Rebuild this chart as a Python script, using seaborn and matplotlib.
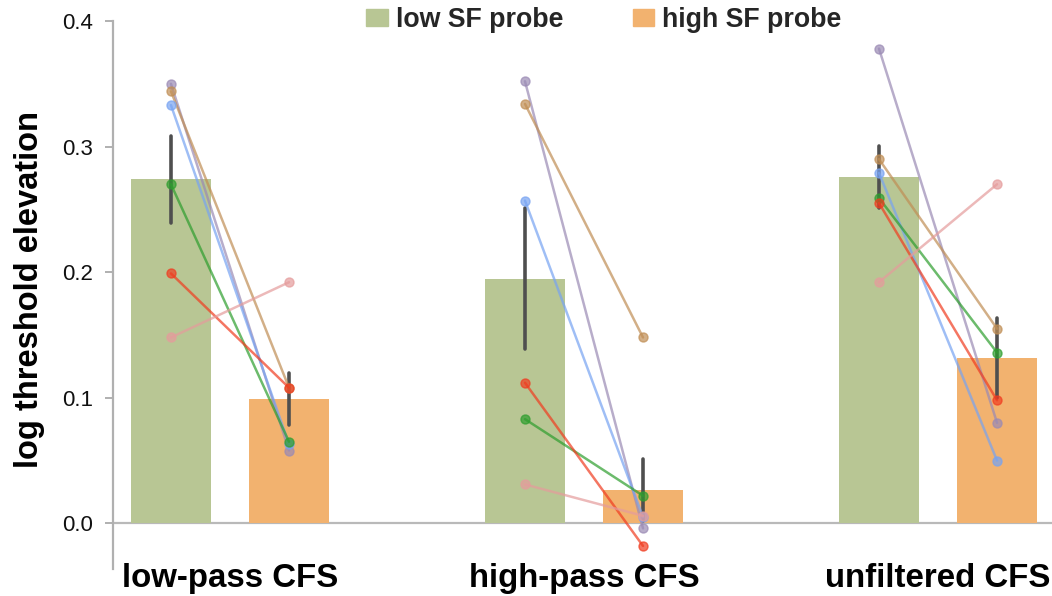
import matplotlib
matplotlib.use("Agg")
import matplotlib.pyplot as plt
import matplotlib.patches as mpatches
import numpy as np
import pandas as pd
import seaborn as sns

# ─────────────────────────────────────────────
# Data
# ─────────────────────────────────────────────
CONDITIONS = ["low-pass CFS", "high-pass CFS", "unfiltered CFS"]
PROBES     = ["low SF probe", "high SF probe"]
SUBJECTS   = ["S1", "S2", "S3", "S4", "S5", "S6"]

# rows = subjects, cols = conditions
LOW_SF = [
    [0.350, 0.352, 0.378],
    [0.344, 0.334, 0.290],
    [0.333, 0.257, 0.279],
    [0.270, 0.083, 0.259],
    [0.199, 0.112, 0.255],
    [0.148, 0.031, 0.192],
]
HIGH_SF = [
    [0.058, -0.004, 0.080],
    [0.108,  0.148, 0.155],
    [0.063,  0.005, 0.050],
    [0.065,  0.022, 0.136],
    [0.108, -0.018, 0.098],
    [0.192,  0.006, 0.270],
]

BAR_COLORS     = ["#b8c694", "#f2b26f"]
SUBJECT_COLORS = ["#9a8ab4", "#c08e55", "#77a3f2", "#2e9e2e", "#f03c20", "#e59c9c"]

# long format for seaborn
rows = []
for s, subj in enumerate(SUBJECTS):
    for c, cond in enumerate(CONDITIONS):
        rows.append({"subject": subj, "condition": cond, "probe": PROBES[0], "value": LOW_SF[s][c]})
        rows.append({"subject": subj, "condition": cond, "probe": PROBES[1], "value": HIGH_SF[s][c]})
df = pd.DataFrame(rows)

sns.set_style("white")
plt.rcParams["font.family"] = ["Liberation Sans", "DejaVu Sans"]

fig = plt.figure(figsize=(10.52, 5.96), dpi=100)
ax = fig.add_axes([0.1074, 0.046, 0.8926, 0.9188])

WIDTH = 0.667
sns.barplot(data=df, x="condition", y="value", hue="probe",
            order=CONDITIONS, hue_order=PROBES, palette=BAR_COLORS,
            errorbar="se", capsize=0, width=WIDTH, gap=0.32, saturation=1,
            linewidth=0, edgecolor="none",
            err_kws={"color": "#4f4f4f", "linewidth": 2.6},
            legend=False, ax=ax)

# individual subjects
off = WIDTH / 4
for s in range(len(SUBJECTS)):
    for c in range(len(CONDITIONS)):
        ax.plot([c - off, c + off], [LOW_SF[s][c], HIGH_SF[s][c]],
                color=SUBJECT_COLORS[s], alpha=0.7, lw=1.8,
                marker="o", markersize=6.5, zorder=4)

ax.axhline(0, color="#b9b9b9", lw=1.6, zorder=0.5)

ax.set_xlim(-0.3305, 2.322)
ax.set_ylim(-0.036, 0.4)
ax.set_yticks([0.0, 0.1, 0.2, 0.3, 0.4])
ax.set_yticklabels([f"{v:.1f}" for v in [0.0, 0.1, 0.2, 0.3, 0.4]], fontsize=16, color="#111111")
ax.tick_params(axis="y", direction="out", length=6, width=1.4, color="#b0b0b0", pad=8.5, left=True)
ax.tick_params(axis="x", length=0, pad=-4)
for lbl in ax.get_xticklabels():
    lbl.set_fontsize(23.8)
    lbl.set_fontweight("bold")
    lbl.set_color("black")

for side in ["top", "right", "bottom"]:
    ax.spines[side].set_visible(False)
ax.spines["left"].set_color("#b0b0b0")
ax.spines["left"].set_linewidth(1.6)

ax.set_xlabel("")
ax.set_ylabel("log threshold elevation", fontsize=23.5, fontweight="bold",
              labelpad=12, color="black")
ax.yaxis.label.set_y(0.509)

handles = [mpatches.Patch(color=BAR_COLORS[i], label=PROBES[i]) for i in range(2)]
fig.legend(handles=handles, loc="center", bbox_to_anchor=(604 / 1052, 1 - 20 / 596),
           ncol=2, frameon=False, prop={"size": 19.3, "weight": "bold"},
           handlelength=0.8, handleheight=0.6, handletextpad=0.3, columnspacing=2.6,
           borderaxespad=0, borderpad=0)

plt.savefig("out.png", dpi=100)
plt.close()
